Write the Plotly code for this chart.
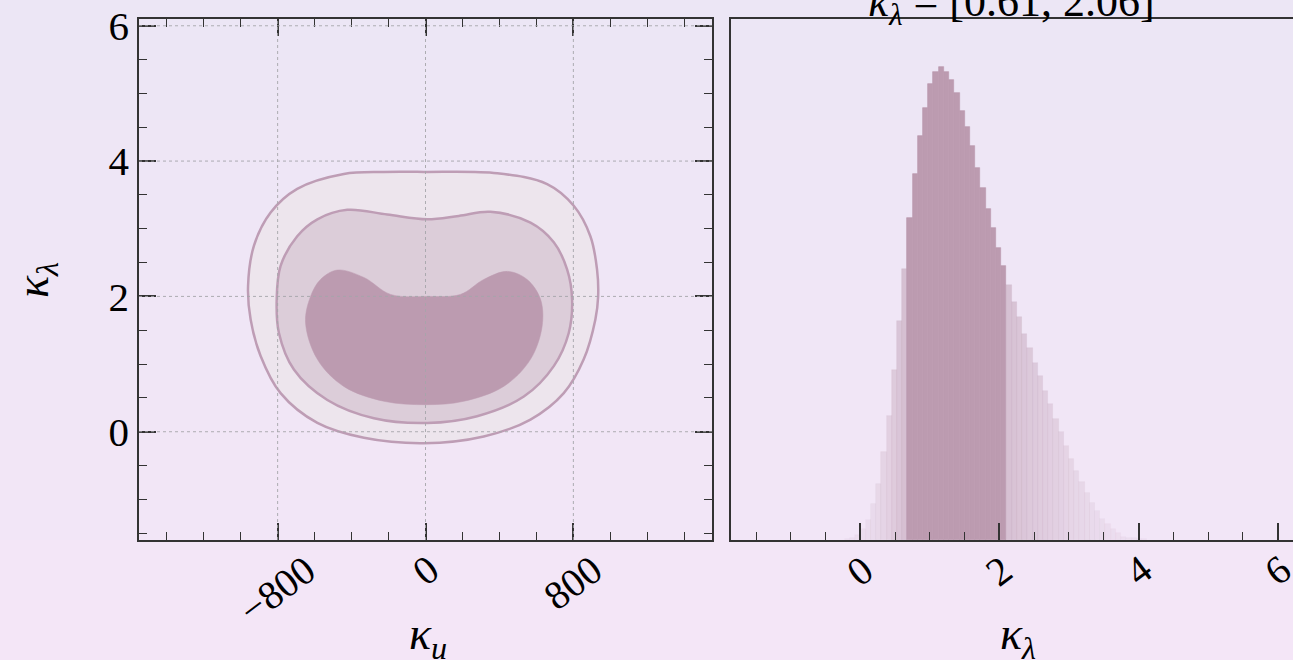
import plotly.graph_objects as go

# ---------------- data ----------------
# 2D credible contours (kappa_u, kappa_lambda)
outer_ku = [-9, 388, 658, 802, 892, 928, 934, 919, 856, 748, 568, 315, -9, -333, -585, -784, -892, -946, -960, -928, -838, -694, -442, -225]
outer_kl = [3.84, 3.82, 3.66, 3.34, 2.89, 2.40, 2.00, 1.66, 1.07, 0.57, 0.18, -0.07, -0.17, -0.09, 0.13, 0.57, 1.12, 1.66, 2.15, 2.75, 3.24, 3.59, 3.81, 3.84]

mid_ku = [9, 180, 351, 568, 694, 766, 793, 775, 694, 532, 279, 9, -279, -531, -712, -793, -805, -784, -694, -585, -423, -207]
mid_kl = [3.14, 3.19, 3.25, 3.09, 2.80, 2.40, 1.96, 1.46, 0.97, 0.52, 0.23, 0.13, 0.20, 0.47, 0.92, 1.46, 1.96, 2.45, 2.89, 3.14, 3.28, 3.21]

inner_ku = [-477, -333, -189, 9, 189, 315, 442, 550, 622, 631, 568, 423, 207, 9, -225, -442, -585, -649, -622, -568]
inner_kl = [2.39, 2.28, 2.03, 2.00, 2.03, 2.25, 2.37, 2.25, 1.96, 1.56, 1.07, 0.67, 0.45, 0.40, 0.45, 0.67, 1.07, 1.61, 2.00, 2.25]

# 1D histogram of kappa_lambda (density per bin)
bin_start = -0.225
bin_width = 0.075
kl_density = [0.001, 0.002, 0.006, 0.013, 0.024, 0.044, 0.069, 0.108, 0.151, 0.208, 0.268, 0.331,
              0.393, 0.447, 0.494, 0.528, 0.557, 0.572, 0.578, 0.572, 0.562, 0.546, 0.524, 0.504,
              0.481, 0.455, 0.430, 0.404, 0.381, 0.357, 0.335,
              0.312, 0.291, 0.272, 0.252, 0.235, 0.216, 0.200, 0.182, 0.166, 0.148, 0.132, 0.115,
              0.099, 0.084, 0.071, 0.057, 0.045, 0.035, 0.026, 0.020, 0.013, 0.009, 0.004, 0.002,
              0.002, 0.001, 0.001]
interval = [0.61, 2.06]

left_xtick_vals = [-800, 0, 800]
left_xtick_text = ["\u2212800", "0", "800"]
left_ytick_vals = [0, 2, 4, 6]
left_ytick_text = ["0", "2", "4", "6"]
right_xtick_vals = [0, 2, 4, 6]
right_xtick_text = ["0", "2", "4", "6"]

# ---------------- styling ----------------
W, H = 1293, 660
ML, MR, MT, MB = 139, 0, 19, 120
PW, PH = W - ML - MR, H - MT - MB
FONT = "Liberation Serif"
AX = "#333333"
DARK = (188, 155, 176)
EDGE = "rgb(190,157,181)"

def px(xp):
    return (xp - ML) / PW

def py(yp):
    return (H - MB - yp) / PH

fig = go.Figure()

def closed(a):
    return list(a) + [a[0]]

fig.add_trace(go.Scatter(x=closed(outer_ku), y=closed(outer_kl), mode="lines", fill="toself",
                         fillcolor="rgb(237,229,237)", line=dict(color=EDGE, width=2.5, shape="spline", smoothing=1.0),
                         xaxis="x", yaxis="y", hoverinfo="skip"))
fig.add_trace(go.Scatter(x=closed(mid_ku), y=closed(mid_kl), mode="lines", fill="toself",
                         fillcolor="rgb(220,205,217)", line=dict(color=EDGE, width=2.5, shape="spline", smoothing=1.0),
                         xaxis="x", yaxis="y", hoverinfo="skip"))
fig.add_trace(go.Scatter(x=closed(inner_ku), y=closed(inner_kl), mode="lines", fill="toself",
                         fillcolor="rgb(188,155,176)", line=dict(color="rgb(188,155,176)", width=0.5, shape="spline", smoothing=1.0),
                         xaxis="x", yaxis="y", hoverinfo="skip"))

# histogram
centers, colors, lcolors = [], [], []
for i, d in enumerate(kl_density):
    lo = bin_start + i * bin_width
    centers.append(lo + bin_width / 2)
    if interval[0] <= lo + 1e-9 and lo <= interval[1]:
        colors.append("rgb(%d,%d,%d)" % DARK)
        lcolors.append("rgb(%d,%d,%d)" % DARK)
    else:
        a = min(0.52, 0.10 + 1.25 * d)
        colors.append("rgba(%d,%d,%d,%.3f)" % (DARK + (a,)))
        lcolors.append("rgba(%d,%d,%d,%.3f)" % (DARK + (a * 0.45,)))
fig.add_trace(go.Bar(x=centers, y=kl_density, width=bin_width, marker=dict(color=colors, line=dict(color=lcolors, width=0.7)),
                     xaxis="x2", yaxis="y2", hoverinfo="skip"))

# background gradient
shapes = []
top_c = (236, 230, 245)
bot_c = (244, 230, 247)
nb = 33
for k in range(nb):
    t = k / (nb - 1)
    c = tuple(round(top_c[j] + (bot_c[j] - top_c[j]) * t) for j in range(3))
    y0p = k * H / nb
    y1p = (k + 1) * H / nb + 1
    shapes.append(dict(type="rect", xref="paper", yref="paper", x0=px(-5), x1=px(W + 5), y0=py(y1p), y1=py(y0p),
                       fillcolor="rgb(%d,%d,%d)" % c, line=dict(width=0), layer="below"))

# grid lines (above fills)
GRID = dict(color="rgba(165,165,170,0.9)", width=1, dash="dot")
for v in left_xtick_vals:
    shapes.append(dict(type="line", xref="x", yref="y domain", x0=v, x1=v, y0=0, y1=1, line=GRID, layer="above"))
for v in left_ytick_vals:
    shapes.append(dict(type="line", xref="x domain", yref="y", x0=0, x1=1, y0=v, y1=v, line=GRID, layer="above"))

annotations = []
TICKF = dict(family=FONT, size=40, color="black")
for v, t in zip(left_xtick_vals, left_xtick_text):
    annotations.append(dict(x=v, y=0, xref="x", yref="paper", text=t, showarrow=False, textangle=-37,
                            xanchor="center", yanchor="top", yshift=-4, font=TICKF))
for v, t in zip(right_xtick_vals, right_xtick_text):
    annotations.append(dict(x=v, y=0, xref="x2", yref="paper", text=t, showarrow=False, textangle=-37,
                            xanchor="center", yanchor="top", yshift=-4, font=TICKF))

LABF = dict(family=FONT, size=46, color="black")
annotations.append(dict(x=px(428), y=py(637), xref="paper", yref="paper", text="<i>κ<sub>u</sub></i>",
                        showarrow=False, xanchor="center", yanchor="middle", font=LABF))
annotations.append(dict(x=px(1018), y=py(637), xref="paper", yref="paper", text="<i>κ<sub>λ</sub></i>",
                        showarrow=False, xanchor="center", yanchor="middle", font=LABF))
annotations.append(dict(x=px(36), y=py(280), xref="paper", yref="paper", text="<i>κ<sub>λ</sub></i>",
                        showarrow=False, xanchor="center", yanchor="middle", textangle=-90, font=LABF))
annotations.append(dict(x=px(1012), y=py(34), xref="paper", yref="paper",
                        text="<i>κ<sub>λ</sub></i> = [%.2f, %.2f]" % (interval[0], interval[1]),
                        showarrow=False, xanchor="center", yanchor="bottom", font=dict(family=FONT, size=44, color="black")))

split_l = px(712)
split_r = px(731)

axis_common = dict(showline=True, linecolor=AX, linewidth=1.6, ticks="inside", tickcolor=AX, tickwidth=1.5,
                   ticklen=17, showgrid=False, zeroline=False)

fig.update_layout(
    width=W, height=H,
    margin=dict(l=ML, r=MR, t=MT, b=MB, pad=0),
    paper_bgcolor="rgb(240,230,246)", plot_bgcolor="rgba(0,0,0,0)",
    showlegend=False, bargap=0,
    font=dict(family=FONT, color="black"),
    xaxis=dict(domain=[0, split_l], range=[-1550, 1550], anchor="y", mirror="ticks",
               tickmode="linear", tick0=0, dtick=800, showticklabels=False,
               minor=dict(ticks="inside", ticklen=8, tickwidth=1.2, tickcolor=AX, dtick=200, tick0=0, showgrid=False),
               **axis_common),
    yaxis=dict(domain=[0, 1], range=[-1.6, 6.1], anchor="x", mirror="ticks",
               tickmode="array", tickvals=left_ytick_vals, ticktext=left_ytick_text,
               tickfont=dict(family=FONT, size=41, color="black"), ticklabelstandoff=0,
               minor=dict(ticks="inside", ticklen=8, tickwidth=1.2, tickcolor=AX, dtick=0.5, tick0=0, showgrid=False),
               **axis_common),
    xaxis2=dict(domain=[split_r, 1], range=[-1.863, 6.223], anchor="y2", mirror=True,
                tickmode="linear", tick0=0, dtick=2, showticklabels=False,
                minor=dict(ticks="inside", ticklen=8, tickwidth=1.2, tickcolor=AX, dtick=0.5, tick0=0, showgrid=False),
                **axis_common),
    yaxis2=dict(domain=[0, 1], range=[0, 0.6365], anchor="x2", showline=True, linecolor=AX, linewidth=1.6,
                ticks="", showticklabels=False, showgrid=False, zeroline=False),
    shapes=shapes,
    annotations=annotations,
)

fig.write_html("out.html")
